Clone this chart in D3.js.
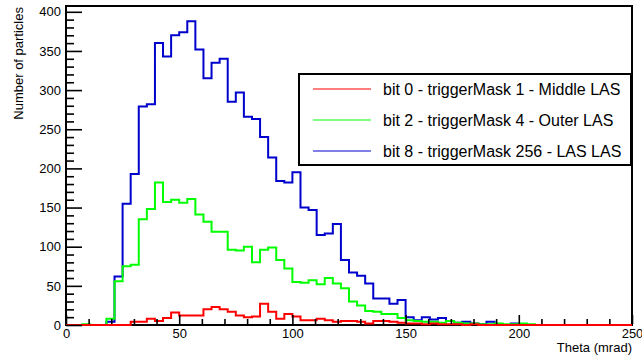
<!DOCTYPE html>
<html>
<head>
<meta charset="utf-8">
<script src="https://cdn.jsdelivr.net/npm/d3@7"></script>
<style>
  html, body { margin: 0; padding: 0; background: #fff; }
  svg { display: block; font-family: "Liberation Sans", Arial, Helvetica, sans-serif; }
</style>
</head>
<body>
<div class="chart"></div>
<script>
// histogram range: 70 bins over 0..250 mrad
const xMin = 0, xMax = 250, nBins = 70;

// bit 0 - Middle LAS (red)
const middleLAS = [0,0,0,0,0,0,0,0,4,4,8,5,9,16,12,12,12,20,23,20,17,12,10,11,27,17,8,14,11,6,
  6,8,6,4,5,5,4,2,5,5,4,3,2,2,1,2,1,1,1,0,1,0,0,0,0,0,0,0,0,0,
  0,0,0,0,0,0,0,0,0,0];
// bit 2 - Outer LAS (green)
const outerLAS = [0,0,1,0,0,8,56,75,77,135,148,182,157,160,156,161,141,132,119,119,96,95,100,80,96,99,83,72,55,54,
  57,52,60,53,47,30,25,18,17,14,14,9,6,5,4,4,3,5,3,2,2,1,1,2,1,1,2,1,0,0,
  0,0,0,0,0,0,0,0,0,0];
// bit 8 - LAS LAS (blue)
const lasLAS = [0,0,0,0,0,4,62,155,193,279,282,360,343,370,374,388,352,315,335,340,285,297,266,263,240,214,184,182,195,150,
  147,115,117,129,83,67,63,53,34,34,27,32,10,6,10,7,9,5,3,4,2,1,4,1,0,2,0,0,0,0,
  0,0,0,0,0,0,0,0,0,0];

const legendLabels = [
  "bit 0 - triggerMask 1 - Middle LAS",
  "bit 2 - triggerMask 4 - Outer LAS",
  "bit 8 - triggerMask 256 - LAS LAS"
];
const seriesColors = ["#ff0000", "#00ff00", "#0000cc"];
const xTicks = [0, 50, 100, 150, 200, 250];
const yTicks = [0, 50, 100, 150, 200, 250, 300, 350, 400];

const width = 642, height = 359;
const frameL = 66, frameR = 632, frameT = 6, frameB = 325;

const svg = d3.select('.chart').append('svg').attr('width', width).attr('height', height);

const xScale = d3.scaleLinear().domain([xMin, xMax]).range([frameL, frameR]);
const yScale = d3.scaleLinear().domain([0, 407.4]).range([frameB, frameT]);

const binW = (xMax - xMin) / nBins;

// frame first, histograms go over it
svg.append('rect')
  .attr('x', frameL).attr('y', frameT)
  .attr('width', frameR - frameL).attr('height', frameB - frameT)
  .attr('fill', 'none').attr('stroke', '#000').attr('stroke-width', 2);

// histogram outline (step)
const step = d3.line()
  .x(d => xScale(d[0]))
  .y(d => yScale(d[1]))
  .curve(d3.curveStepAfter);

function toPoints(vals) {
  const pts = vals.map((v, i) => [xMin + i * binW, v]);
  pts.push([xMax, vals[vals.length - 1]]);
  return pts;
}

const allSeries = [middleLAS, outerLAS, lasLAS];
// draw blue first, red last (red on top)
[2, 1, 0].forEach(k => {
  svg.append('path')
    .attr('d', step(toPoints(allSeries[k])))
    .attr('fill', 'none')
    .attr('stroke', seriesColors[k])
    .attr('stroke-width', 2);
});

// minor ticks
const yMinor = d3.range(0, 401, 10).filter(v => v % 50 !== 0);
const xMinor = d3.range(0, 251, 10).filter(v => v % 50 !== 0);

svg.append('g')
  .attr('transform', 'translate(' + frameL + ',0)')
  .call(d3.axisLeft(yScale).tickValues(yMinor).tickFormat('').tickSizeInner(-8).tickSizeOuter(0))
  .call(g => g.select('.domain').remove());
svg.append('g')
  .attr('transform', 'translate(0,' + (frameB - 1) + ')')
  .call(d3.axisBottom(xScale).tickValues(xMinor).tickFormat('').tickSizeInner(-5).tickSizeOuter(0))
  .call(g => g.select('.domain').remove());

// major ticks + labels
const yAxis = svg.append('g')
  .attr('transform', 'translate(' + frameL + ',0)')
  .call(d3.axisLeft(yScale).tickValues(yTicks).tickSizeInner(-16).tickSizeOuter(0).tickPadding(5))
  .call(g => g.select('.domain').remove());
yAxis.selectAll('text').attr('font-size', 13).attr('fill', '#000');
yAxis.attr('font-family', null).attr('font-size', null);

const xAxis = svg.append('g')
  .attr('transform', 'translate(0,' + (frameB - 1) + ')')
  .call(d3.axisBottom(xScale).tickValues(xTicks).tickSizeInner(-9).tickSizeOuter(0).tickPadding(5))
  .call(g => g.select('.domain').remove());
xAxis.selectAll('text').attr('font-size', 13).attr('fill', '#000');
xAxis.attr('font-family', null).attr('font-size', null);

svg.selectAll('.tick line').attr('stroke', '#000').attr('stroke-width', 1.6);

// axis titles
svg.append('text')
  .attr('transform', 'translate(23,' + (frameT + 1) + ') rotate(-90)')
  .attr('text-anchor', 'end')
  .attr('font-size', 13)
  .text('Number of particles');

svg.append('text')
  .attr('x', frameR).attr('y', 352)
  .attr('text-anchor', 'end')
  .attr('font-size', 13)
  .text('Theta (mrad)');

// legend
const lg = svg.append('g');
lg.append('rect')
  .attr('x', 299).attr('y', 74)
  .attr('width', 332).attr('height', 91)
  .attr('fill', '#fff').attr('stroke', '#000').attr('stroke-width', 2);

const rows = [89, 120, 151];
legendLabels.forEach((lbl, i) => {
  lg.append('line')
    .attr('x1', 313).attr('x2', 371)
    .attr('y1', rows[i]).attr('y2', rows[i])
    .attr('stroke', seriesColors[i]).attr('stroke-width', 1.2);
  lg.append('text')
    .attr('x', 383).attr('y', rows[i])
    .attr('dy', '0.36em')
    .attr('font-size', 16)
    .text(lbl);
});
</script>
</body>
</html>
